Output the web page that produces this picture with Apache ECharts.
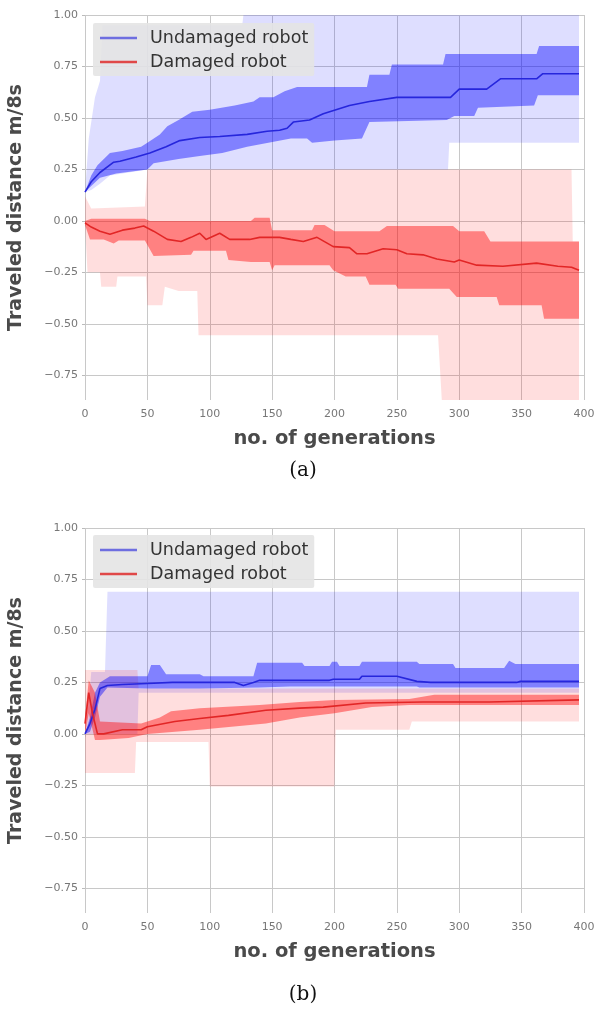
<!DOCTYPE html>
<html>
<head>
<meta charset="utf-8">
<script src="https://cdn.jsdelivr.net/npm/echarts@6/dist/echarts.min.js"></script>
<style>
  html, body { margin: 0; padding: 0; background: #fff; }
  #main { width: 597px; height: 1012px; }
</style>
</head>
<body>
<div id="main"></div>
<script>
// ticks
const yTicks = [-0.75, -0.5, -0.25, 0, 0.25, 0.5, 0.75, 1.0];
const seriesNames = ['Undamaged robot', 'Damaged robot'];

// (a) undamaged robot: [generation, value]
const aBlueMean = [[0,0.14],[5,0.19],[12,0.235],[23,0.285],[28,0.29],[41,0.31],[52,0.33],[65,0.36],[76,0.39],[92,0.405],[108,0.41],[130,0.42],[146,0.435],[156,0.44],[162,0.45],[167,0.48],[180,0.49],[191,0.52],[212,0.56],[228,0.58],[250,0.60],[293,0.60],[300,0.64],[322,0.64],[333,0.69],[362,0.69],[367,0.715],[396,0.715]];
const aBlueQ3 = [[0,0.14],[5,0.22],[10,0.27],[20,0.33],[30,0.34],[45,0.36],[50,0.38],[60,0.42],[66,0.46],[75,0.49],[86,0.53],[100,0.54],[120,0.56],[135,0.58],[140,0.6],[151,0.6],[160,0.63],[170,0.65],[226,0.65],[228,0.71],[244,0.71],[246,0.76],[287,0.76],[289,0.81],[362,0.81],[364,0.85],[396,0.85]];
const aBlueQ1 = [[0,0.14],[5,0.17],[12,0.21],[25,0.23],[50,0.25],[55,0.28],[75,0.30],[92,0.315],[110,0.33],[130,0.36],[165,0.40],[178,0.40],[182,0.38],[200,0.39],[222,0.40],[228,0.48],[290,0.49],[296,0.51],[312,0.51],[315,0.55],[360,0.56],[363,0.61],[396,0.61]];
const aBlueMax = [[0,0.14],[3,0.4],[8,0.6],[12,0.68],[14,0.95],[126,0.95],[127,1.0],[396,1.0]];
const aBlueMin = [[0,0.14],[5,0.15],[12,0.18],[20,0.22],[50,0.25],[291,0.25],[292,0.38],[396,0.38]];

// (a) damaged robot
const aRedMean = [[0,-0.01],[5,-0.03],[12,-0.05],[20,-0.065],[30,-0.045],[40,-0.035],[47,-0.025],[55,-0.05],[66,-0.09],[77,-0.10],[85,-0.08],[92,-0.06],[97,-0.09],[108,-0.06],[116,-0.09],[132,-0.09],[140,-0.08],[156,-0.08],[165,-0.09],[175,-0.10],[186,-0.08],[199,-0.125],[212,-0.13],[218,-0.16],[226,-0.16],[239,-0.135],[250,-0.14],[258,-0.16],[271,-0.165],[282,-0.185],[296,-0.2],[300,-0.19],[314,-0.215],[335,-0.22],[362,-0.205],[379,-0.22],[390,-0.225],[396,-0.24]];
const aRedQ3 = [[0,0.0],[5,0.01],[48,0.01],[52,0.0],[133,0.0],[136,0.015],[148,0.015],[150,-0.045],[182,-0.045],[184,-0.02],[192,-0.02],[200,-0.05],[236,-0.05],[242,-0.025],[295,-0.025],[300,-0.05],[320,-0.05],[325,-0.1],[396,-0.1]];
const aRedQ1 = [[0,-0.02],[4,-0.09],[15,-0.09],[23,-0.11],[27,-0.095],[48,-0.095],[55,-0.17],[85,-0.165],[87,-0.145],[113,-0.145],[115,-0.19],[133,-0.2],[148,-0.2],[150,-0.24],[152,-0.215],[196,-0.215],[199,-0.24],[209,-0.27],[225,-0.27],[228,-0.31],[249,-0.31],[251,-0.33],[292,-0.33],[298,-0.37],[330,-0.37],[332,-0.41],[366,-0.41],[368,-0.475],[396,-0.475]];
const aRedMax = [[0,0.12],[5,0.06],[48,0.07],[50,0.25],[390,0.25],[391,-0.1],[396,-0.1]];
const aRedMin = [[0,-0.02],[2,-0.25],[12,-0.25],[13,-0.32],[25,-0.32],[26,-0.27],[49,-0.27],[50,-0.41],[62,-0.41],[64,-0.32],[75,-0.34],[90,-0.34],[91,-0.555],[283,-0.555],[286,-0.87],[396,-0.87]];

// (b) undamaged robot
const bBlueMean = [[0,0.0],[4,0.05],[8,0.12],[12,0.22],[18,0.235],[30,0.24],[50,0.245],[70,0.25],[120,0.25],[127,0.235],[135,0.25],[140,0.26],[196,0.26],[199,0.265],[220,0.265],[222,0.28],[250,0.28],[266,0.255],[277,0.25],[346,0.25],[349,0.255],[396,0.255]];
const bBlueQ3 = [[0,0.0],[4,0.08],[8,0.2],[12,0.25],[20,0.28],[50,0.28],[53,0.335],[60,0.335],[65,0.29],[92,0.29],[95,0.28],[135,0.28],[138,0.345],[174,0.345],[176,0.33],[196,0.33],[198,0.35],[202,0.35],[204,0.33],[220,0.33],[222,0.35],[266,0.35],[268,0.34],[295,0.34],[297,0.32],[336,0.32],[340,0.355],[345,0.34],[396,0.34]];
const bBlueQ1 = [[0,0.0],[4,0.01],[8,0.08],[12,0.18],[18,0.225],[50,0.22],[92,0.22],[140,0.225],[164,0.23],[266,0.23],[268,0.225],[396,0.225]];
const bBlueMax = [[0,0.0],[3,0.15],[5,0.3],[16,0.3],[18,0.69],[396,0.69]];
const bBlueMin = [[0,0.0],[42,0.0],[43,0.2],[396,0.2]];

// (b) damaged robot
const bRedMean = [[0,0.05],[3,0.2],[6,0.1],[10,0.0],[15,0.0],[30,0.02],[45,0.02],[50,0.035],[72,0.06],[92,0.075],[115,0.09],[145,0.115],[172,0.125],[191,0.13],[225,0.15],[271,0.155],[324,0.155],[396,0.165]];
const bRedQ3 = [[0,0.08],[3,0.26],[8,0.2],[12,0.06],[45,0.05],[60,0.08],[69,0.11],[92,0.125],[140,0.14],[172,0.155],[200,0.165],[260,0.17],[280,0.19],[396,0.19]];
const bRedQ1 = [[0,0.0],[3,0.1],[8,-0.03],[12,-0.03],[35,-0.02],[50,0.0],[92,0.02],[145,0.05],[172,0.08],[200,0.1],[230,0.13],[260,0.14],[396,0.14]];
const bRedMax = [[0,0.31],[42,0.31],[43,0.22],[396,0.22]];
const bRedMin = [[0,-0.19],[40,-0.19],[41,-0.04],[99,-0.04],[100,-0.255],[200,-0.255],[201,0.02],[260,0.02],[262,0.06],[396,0.06]];

const BLUE = '#2626dc';
const RED = '#e22626';
const LIGHT_BLUE = 'rgba(0,0,255,0.13)';
const LIGHT_RED = 'rgba(255,0,0,0.13)';
const DARK_BLUE = 'rgba(0,0,255,0.42)';
const DARK_RED = 'rgba(255,0,0,0.42)';

// filled band between upper and lower curves
function band(upper, lower, color, gi) {
  return {
    type: 'custom', xAxisIndex: gi, yAxisIndex: gi, silent: true, clip: true,
    data: [[0, 0]],
    renderItem: function (params, api) {
      let pts = upper.map(function (p) { return api.coord(p); });
      lower.slice().reverse().forEach(function (p) { pts.push(api.coord(p)); });
      return { type: 'polygon', shape: { points: pts }, style: { fill: color } };
    }
  };
}

function line(name, data, color, gi) {
  return {
    type: 'line', name: name, xAxisIndex: gi, yAxisIndex: gi, data: data,
    symbol: 'none', showSymbol: false, z: 5,
    lineStyle: { width: 1.6, color: color }, itemStyle: { color: color }
  };
}

function fmt(v) {
  return v.toFixed(2).replace('-', '\u2212');
}

function xAxis(gi) {
  return {
    gridIndex: gi, type: 'value', min: 0, max: 400, interval: 50,
    axisLine: { show: false },
    axisTick: { show: true, length: 3, lineStyle: { color: '#bbb' } },
    axisLabel: { color: '#777', fontSize: 11, margin: 9, fontFamily: 'DejaVu Sans' },
    splitLine: { show: true, lineStyle: { color: '#c8c8c8', width: 1 } },
    name: 'no. of generations', nameLocation: 'middle', nameGap: 29,
    nameTextStyle: { color: '#4a4a4a', fontSize: 19.5, fontWeight: 'bold', fontFamily: 'DejaVu Sans' }
  };
}

function yAxis(gi) {
  return {
    gridIndex: gi, type: 'value', min: -0.87, max: 1.0,
    axisLine: { show: false },
    axisTick: { show: true, length: 3, lineStyle: { color: '#bbb' }, customValues: yTicks },
    axisLabel: { customValues: yTicks, formatter: fmt, color: '#777', fontSize: 11, margin: 7, fontFamily: 'DejaVu Sans' },
    splitLine: { show: true, lineStyle: { color: '#c8c8c8', width: 1 } },
    name: 'Traveled distance m/8s', nameLocation: 'middle', nameGap: 59,
    nameTextStyle: { color: '#4a4a4a', fontSize: 19, fontWeight: 'bold', fontFamily: 'DejaVu Sans' }
  };
}

function legend(top) {
  return {
    left: 93, top: top, orient: 'vertical', icon: 'rect', itemWidth: 37, itemHeight: 2.5, itemGap: 6,
    padding: [6, 6, 5, 7], backgroundColor: 'rgba(228,228,228,0.9)', borderRadius: 2,
    selectedMode: false,
    textStyle: { color: '#333', fontSize: 17.5, fontFamily: 'DejaVu Sans', padding: [0, 0, 0, 8] },
    data: [
      { name: seriesNames[0], itemStyle: { color: '#6e6ee0' } },
      { name: seriesNames[1], itemStyle: { color: '#e04848' } }
    ]
  };
}

let myChart = echarts.init(document.getElementById('main'));
let option = {
  animation: false,
  backgroundColor: '#fff',
  grid: [
    { left: 85, right: 13, top: 15, height: 385, outerBoundsMode: 'none' },
    { left: 85, right: 13, top: 528, height: 385, outerBoundsMode: 'none' }
  ],
  xAxis: [xAxis(0), xAxis(1)],
  yAxis: [yAxis(0), yAxis(1)],
  legend: [legend(23), legend(535)],
  graphic: [
    { type: 'text', x: 303, y: 471, style: { text: '(a)', fill: '#111', font: '20px "DejaVu Serif"', textAlign: 'center', textVerticalAlign: 'middle' } },
    { type: 'text', x: 303, y: 995, style: { text: '(b)', fill: '#111', font: '20px "DejaVu Serif"', textAlign: 'center', textVerticalAlign: 'middle' } }
  ],
  series: [
    band(aBlueMax, aBlueMin, LIGHT_BLUE, 0),
    band(aRedMax, aRedMin, LIGHT_RED, 0),
    band(aBlueQ3, aBlueQ1, DARK_BLUE, 0),
    band(aRedQ3, aRedQ1, DARK_RED, 0),
    line(seriesNames[0], aBlueMean, BLUE, 0),
    line(seriesNames[1], aRedMean, RED, 0),
    band(bBlueMax, bBlueMin, LIGHT_BLUE, 1),
    band(bRedMax, bRedMin, LIGHT_RED, 1),
    band(bBlueQ3, bBlueQ1, DARK_BLUE, 1),
    band(bRedQ3, bRedQ1, DARK_RED, 1),
    line(seriesNames[0], bBlueMean, BLUE, 1),
    line(seriesNames[1], bRedMean, RED, 1)
  ]
};
myChart.setOption(option);
</script>
</body>
</html>
